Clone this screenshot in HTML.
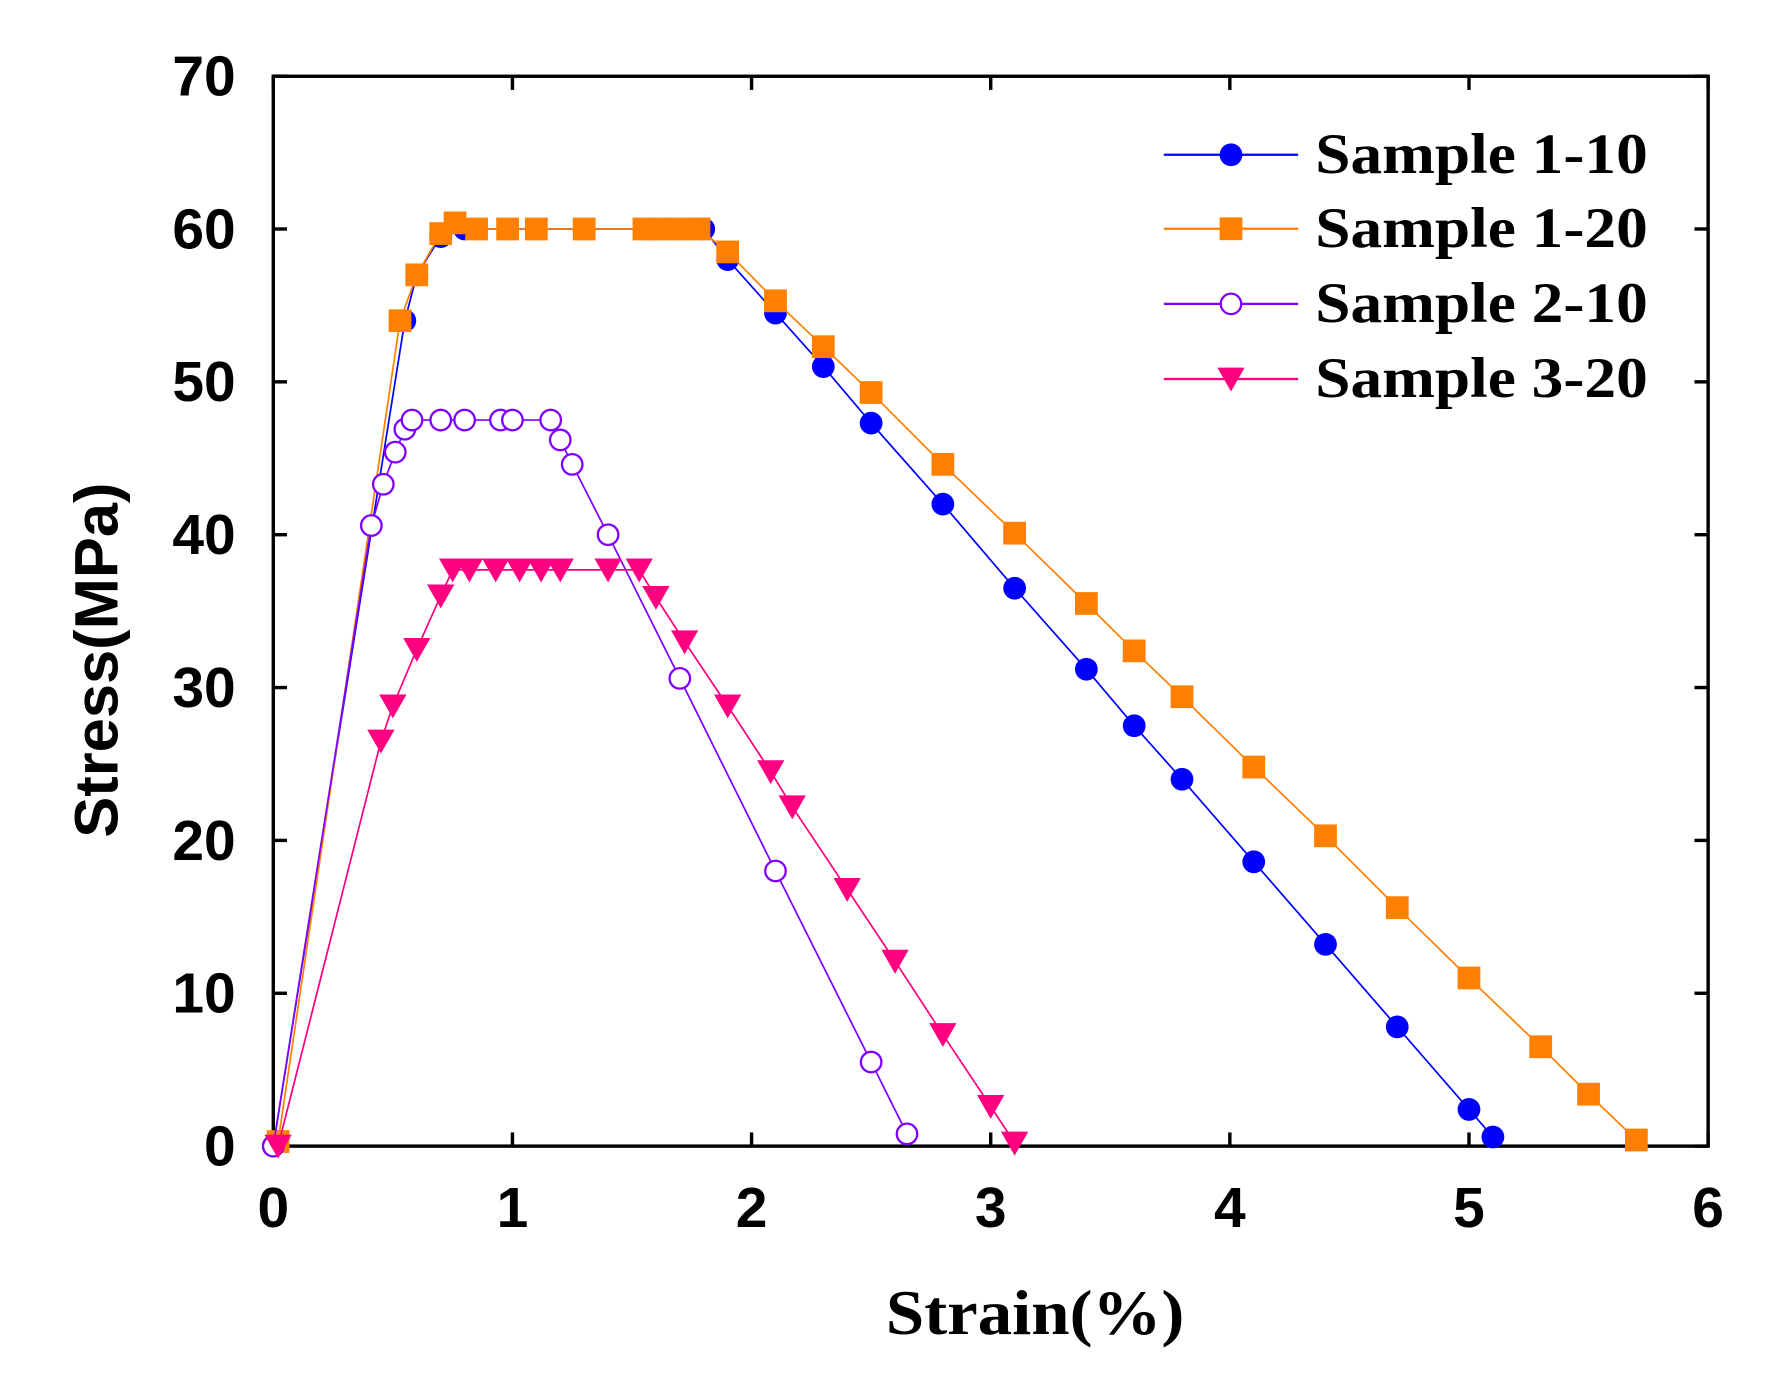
<!DOCTYPE html>
<html><head><meta charset="utf-8"><style>html,body{margin:0;padding:0;background:#fff}svg{display:block}</style></head>
<body>
<svg id="s" width="1781" height="1384" viewBox="0 0 1564 1216" preserveAspectRatio="none" xmlns="http://www.w3.org/2000/svg" font-family="Liberation Serif, serif" font-weight="bold">
<rect width="1564" height="1216" fill="#fff"/>
<g id="ax"></g>
<g id="data"></g>
<g id="leg"></g>
<text x="778" y="1172" font-size="56" textLength="262" lengthAdjust="spacingAndGlyphs">Strain(%)</text>
<text transform="translate(103,580) rotate(-90)" font-size="54" text-anchor="middle" font-family="Liberation Sans, sans-serif">Stress(MPa)</text>
</svg>
<script>
const NS="http://www.w3.org/2000/svg";
const X=v=>240+v*210, Y=v=>1007-v*13.43;
function el(p,t,a,txt){const e=document.createElementNS(NS,t);for(const k in a)e.setAttribute(k,a[k]);if(txt!==undefined)e.textContent=txt;document.getElementById(p).appendChild(e);return e;}
el('ax','rect',{x:240,y:67,width:1260,height:940,fill:'none',stroke:'#000','stroke-width':3});
for(let i=0;i<=6;i++){const x=X(i);
 el('ax','line',{x1:x,y1:1007,x2:x,y2:995,stroke:'#000','stroke-width':3});
 el('ax','line',{x1:x,y1:67,x2:x,y2:79,stroke:'#000','stroke-width':3});
 el('ax','text',{x:x,y:1078,'font-size':50,'text-anchor':'middle','font-family':'Liberation Sans, sans-serif'},String(i));}
for(let i=0;i<=7;i++){const y=Y(i*10);
 el('ax','line',{x1:240,y1:y,x2:252,y2:y,stroke:'#000','stroke-width':3});
 el('ax','line',{x1:1500,y1:y,x2:1488,y2:y,stroke:'#000','stroke-width':3});
 el('ax','text',{x:207,y:y+17,'font-size':50,'text-anchor':'end','font-family':'Liberation Sans, sans-serif'},String(i*10));}
const S=[
{c:'#0000ff',m:'c',d:[[0,0],[0.55,54],[0.6,57],[0.7,59.5],[0.8,60],[1.8,60],[1.9,58],[2.1,54.5],[2.3,51],[2.5,47.3],[2.8,42],[3.1,36.5],[3.4,31.2],[3.6,27.5],[3.8,24],[4.1,18.6],[4.4,13.2],[4.7,7.8],[5.0,2.4],[5.1,0.6]]},
{c:'#ff8000',m:'s',d:[[0.02,0.3],[0.53,54],[0.6,57],[0.7,59.7],[0.76,60.4],[0.85,60],[0.98,60],[1.1,60],[1.3,60],[1.55,60],[1.62,60],[1.7,60],[1.78,60],[1.9,58.5],[2.1,55.3],[2.3,52.3],[2.5,49.3],[2.8,44.6],[3.1,40.1],[3.4,35.5],[3.6,32.4],[3.8,29.4],[4.1,24.8],[4.4,20.3],[4.7,15.6],[5.0,11],[5.3,6.5],[5.5,3.4],[5.7,0.4]]},
{c:'#8000ff',m:'o',d:[[0,0],[0.41,40.6],[0.46,43.3],[0.51,45.4],[0.55,46.9],[0.58,47.5],[0.7,47.5],[0.8,47.5],[0.95,47.5],[1.0,47.5],[1.16,47.5],[1.2,46.2],[1.25,44.6],[1.4,40],[1.7,30.6],[2.1,18],[2.5,5.5],[2.65,0.8]]},
{c:'#ff0080',m:'t',d:[[0.02,0],[0.45,26.5],[0.5,28.8],[0.6,32.5],[0.7,36],[0.75,37.7],[0.82,37.7],[0.93,37.7],[1.03,37.7],[1.12,37.7],[1.2,37.7],[1.4,37.7],[1.53,37.7],[1.6,35.9],[1.72,33],[1.9,28.8],[2.08,24.5],[2.17,22.2],[2.4,16.8],[2.6,12.1],[2.8,7.3],[3.0,2.6],[3.1,0.2]]}];
function mk(g,m,c,x,y){
 if(m=='c')el(g,'circle',{cx:x,cy:y,r:10,fill:c});
 else if(m=='o')el(g,'circle',{cx:x,cy:y,r:9,fill:'#fff',stroke:c,'stroke-width':2});
 else if(m=='s')el(g,'rect',{x:x-10,y:y-10,width:20,height:20,fill:c});
 else el(g,'polygon',{points:`${x-12},${y-10} ${x+12},${y-10} ${x},${y+11}`,fill:c});}
S.forEach(s=>{el('data','polyline',{points:s.d.map(p=>X(p[0])+','+Y(p[1])).join(' '),fill:'none',stroke:s.c,'stroke-width':1.5});
 s.d.forEach(p=>mk('data',s.m,s.c,X(p[0]),Y(p[1])));});
const L=['Sample 1-10','Sample 1-20','Sample 2-10','Sample 3-20'],LY=[136,201,267,333];
S.forEach((s,i)=>{el('leg','line',{x1:1022,y1:LY[i],x2:1140,y2:LY[i],stroke:s.c,'stroke-width':2});
 mk('leg',s.m,s.c,1081,LY[i]);
 el('leg','text',{x:1155,y:LY[i]+16,'font-size':50,textLength:292,lengthAdjust:'spacingAndGlyphs'},L[i]);});
</script>
</body></html>
